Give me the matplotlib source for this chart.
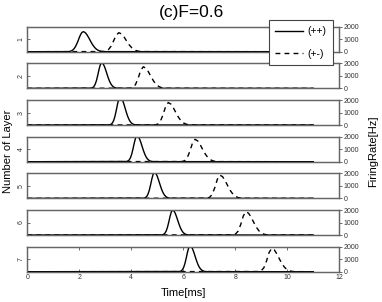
import matplotlib
matplotlib.use("Agg")
import matplotlib.pyplot as plt

plt.rcParams['font.family'] = ['Liberation Sans', 'DejaVu Sans']

# firing rate [Hz] sampled around each pulse, one row per layer
layers = [1, 2, 3, 4, 5, 6, 7]
t_end = 11.0

# (++) : solid, 0.05 ms sampling
pp_start = [1.55, 2.46, 3.17, 3.82, 4.49, 5.19, 5.86]
pp_step = 0.05
pp_rate = [
    [6, 15, 34, 70, 136, 242, 398, 610, 862, 1131, 1371, 1539, 1600,
     1568, 1477, 1336, 1162, 971, 779, 600, 445, 317, 216, 142, 90, 54, 32, 18, 10, 5],
    [18, 55, 144, 322, 627, 1054, 1525, 1904, 2050, 1980, 1786, 1501, 1179,
     863, 588, 375, 223, 125, 64, 31, 14, 6],
    [20, 61, 158, 353, 689, 1157, 1674, 2090, 2250, 2174, 1960, 1647, 1294,
     947, 646, 412, 245, 137, 70, 34, 16, 7],
    [19, 56, 146, 327, 636, 1069, 1548, 1932, 2080, 2009, 1812, 1523, 1196,
     876, 597, 381, 227, 127, 64, 31, 15, 6],
    [19, 56, 146, 327, 636, 1069, 1548, 1932, 2080, 2009, 1812, 1523, 1196,
     876, 597, 381, 227, 127, 64, 31, 15, 6],
    [18, 54, 140, 314, 612, 1028, 1488, 1858, 2000, 1932, 1742, 1464, 1150,
     842, 574, 366, 218, 122, 62, 30, 14, 6],
    [19, 56, 146, 327, 636, 1069, 1548, 1932, 2080, 2009, 1812, 1523, 1196,
     876, 597, 381, 227, 127, 64, 31, 15, 6],
]

# (+-) : dashed, 0.1 ms sampling
pm_start = [2.92, 3.96, 4.92, 5.95, 6.91, 7.91, 8.90]
pm_step = 0.1
pm_rate = [
    [10, 48, 166, 436, 874, 1324, 1520, 1426, 1178, 856, 547, 309, 153, 67, 26, 9],
    [14, 76, 298, 792, 1424, 1730, 1616, 1315, 932, 578, 311, 147, 60, 21, 7],
    [14, 79, 310, 824, 1481, 1800, 1681, 1368, 970, 601, 324, 153, 62, 22, 7],
    [14, 79, 308, 820, 1473, 1790, 1672, 1360, 965, 598, 322, 152, 62, 21, 7],
    [15, 82, 320, 852, 1531, 1860, 1737, 1414, 1003, 621, 335, 158, 65, 22, 7],
    [15, 82, 322, 856, 1539, 1870, 1747, 1421, 1008, 625, 337, 159, 65, 22, 7],
    [15, 82, 322, 856, 1539, 1870, 1747, 1421, 1008, 625, 337, 159, 65, 22, 7],
]

x_ticks = [0, 2, 4, 6, 8, 10, 12]
rate_ticks = [0, 1000, 2000]


def pulse(start, step, vals):
    ''' pad a sampled pulse with the zero baseline from 0 to t_end '''
    t = [0.0] + [start + step * i for i in range(len(vals))] + [t_end]
    r = [0] + list(vals) + [0]
    return t, r


W, H = 382, 302
fig = plt.figure(figsize=(W / 100, H / 100), dpi=100)
spine_c = '#666666'

left_px, right_px = 27.3, 339.3
top0, ph, gap = 26.7, 25.0, 36.67

for i, lay in enumerate(layers):
    top = top0 + gap * i
    ax = fig.add_axes([left_px / W, 1 - (top + ph) / H,
                       (right_px - left_px) / W, ph / H])
    ax.set_xlim(0, 12)
    ax.set_ylim(0, 1)
    ax.set_yticks([0.5])
    ax.set_yticklabels([str(lay)], rotation=90, va='center', fontsize=5)
    ax.tick_params(axis='y', direction='in', length=2, width=0.5, pad=2,
                   colors='#333333')
    for s in ax.spines.values():
        s.set_color(spine_c)
        s.set_linewidth(0.9)

    ax2 = ax.twinx()
    ax2.set_ylim(0, 2000)
    ax2.set_xlim(0, 12)
    ax2.set_yticks(rate_ticks)
    ax2.set_yticklabels([str(v) for v in rate_ticks], fontsize=5)
    ax2.tick_params(axis='y', direction='out', length=2, width=0.5, pad=1,
                    colors='#333333')
    for s in ax2.spines.values():
        s.set_color(spine_c)
        s.set_linewidth(0.9)

    t, r = pulse(pp_start[i], pp_step, pp_rate[i])
    l1, = ax2.plot(t, r, color='black', lw=1.0, label='(++)')
    t, r = pulse(pm_start[i], pm_step, pm_rate[i])
    l2, = ax2.plot(t, r, color='black', lw=1.0, ls=(0, (3.5, 3)), label='(+-)')

    if i < len(layers) - 1:
        ax.set_xticks([])
    else:
        ax.set_xticks(x_ticks)
        ax.set_xticklabels([str(v) for v in x_ticks], fontsize=5)
        ax.tick_params(axis='x', direction='in', length=2, width=0.5, pad=2,
                       top=True, colors='#333333')

leg = fig.legend([l1, l2], ['(++)', '(+-)'], loc='upper right',
                 bbox_to_anchor=(333 / W, 1 - 20 / H), fontsize=7.5,
                 handlelength=2.6, fancybox=False, framealpha=1,
                 borderaxespad=0, borderpad=0.6, labelspacing=1.2,
                 handletextpad=0.5)
leg.get_frame().set_edgecolor('#444444')
leg.get_frame().set_linewidth(0.8)

fig.text(0.5, 0.96, '(c)F=0.6', ha='center', va='center', fontsize=12.5)
fig.text(0.48, 0.03, 'Time[ms]', ha='center', va='center', fontsize=8)
fig.text(0.022, 0.5, 'Number of Layer', ha='center', va='center',
         rotation=90, fontsize=8)
fig.text(0.977, 0.5, 'FiringRate[Hz]', ha='center', va='center',
         rotation=90, fontsize=8)

fig.savefig('out.png', dpi=100)
